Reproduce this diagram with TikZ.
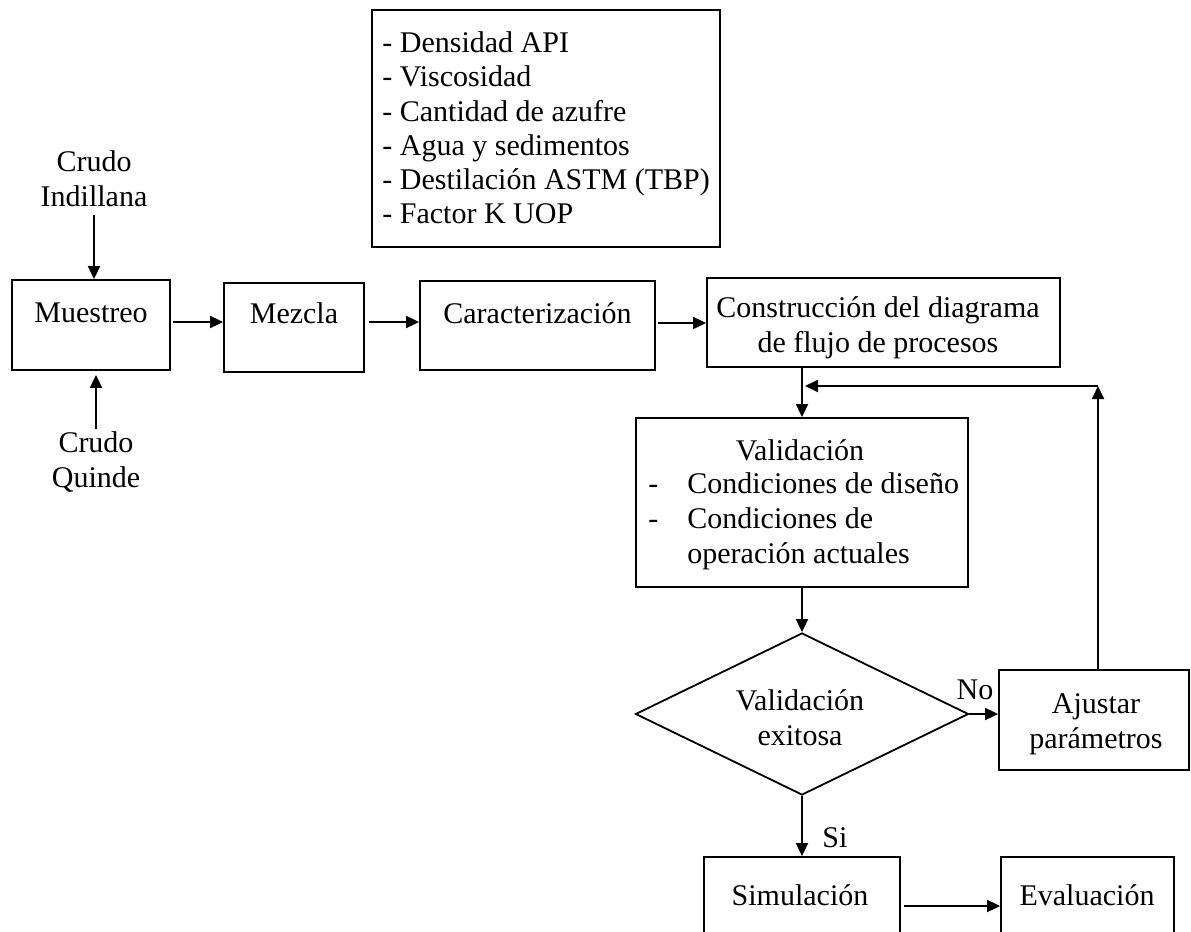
\documentclass[tikz,border=0pt]{standalone}
\usepackage{fontspec}
\setmainfont{Liberation Serif}
\usetikzlibrary{arrows.meta,shapes.geometric}
\begin{document}
\begin{tikzpicture}[x=0.5pt,y=-0.5pt,
  box/.style={draw,line width=0.9pt,inner sep=0pt,rectangle},
  txt/.style={inner sep=0pt,align=center,font=\fontsize{15}{17.5}\selectfont},
  arr/.style={line width=0.9pt,-{Triangle[length=6.5pt,width=6pt]}}]
\useasboundingbox (0,0) rectangle (1191,932);
\clip (0,0) rectangle (1191,932);
\fill[white] (0,0) rectangle (1191,932);
% list box
\node[box,minimum width=174pt,minimum height=118.5pt] (lst) at (546,128.5) {};
\node[txt,align=left,anchor=west,font=\fontsize{15}{17.1}\selectfont] (lstt) at (382,128)
  {- Densidad API\\- Viscosidad\\- Cantidad de azufre\\- Agua y sedimentos\\- Destilación ASTM (TBP)\\- Factor K UOP};
% top row
\node[box,minimum width=79pt,minimum height=45pt] (mue) at (91,325) {};
\node[txt] (muet) at (91,313) {Muestreo};
\node[box,minimum width=70pt,minimum height=44.5pt] (mez) at (294,327.5) {};
\node[txt] (mezt) at (294,313) {Mezcla};
\node[box,minimum width=117.5pt,minimum height=44.5pt] (car) at (537.5,325.5) {};
\node[txt] (cart) at (537.5,313) {Caracterización};
\node[box,minimum width=176.5pt,minimum height=44.5pt] (con) at (883.5,322.5) {};
\node[txt] (cont) at (878,327.5) {Construcción del diagrama\\de flujo de procesos};
\node[txt,inner sep=4pt] (ci) at (94,178.5) {Crudo\\Indillana};
\node[txt,inner sep=1.5pt] (cq) at (96,462.5) {Crudo\\Quinde};
% validation
\node[box,minimum width=166pt,minimum height=84.5pt] (val) at (802,502.5) {};
\node[txt] (valt) at (800,450) {Validación};
\node[txt,anchor=west] (vall) at (648,521)
  {\begin{tabular}{@{}l@{\hspace{14.5pt}}l@{}}-&Condiciones de diseño\\-&Condiciones de\\&operación actuales\end{tabular}};
\node[draw,diamond,line width=0.9pt,inner sep=0pt,minimum width=166.5pt,minimum height=81pt] (dia) at (802,714) {};
\node[txt] (diat) at (800,717.5) {Validación\\exitosa};
\node[box,minimum width=95pt,minimum height=50pt] (aju) at (1094,720) {};
\node[txt] (ajut) at (1096,724) {Ajustar\\parámetros};
\node[box,minimum width=98pt,minimum height=44pt] (sim) at (802,901) {};
\node[txt] (simt) at (800,895) {Simulación};
\node[box,minimum width=86.5pt,minimum height=44pt] (eva) at (1087.5,901) {};
\node[txt] (evat) at (1087,895) {Evaluación};
\node[txt] (no) at (975,690) {No};
\node[txt] (si) at (835,838) {Si};
% connectors
\coordinate (r1) at (0,322);
\coordinate (r2) at (0,323);
\coordinate (r3) at (0,906);
\coordinate (fb) at (1098,386);
\draw[arr,shorten <=1pt] (mue.east |- r1) -- (mez.west |- r1);
\draw[arr,shorten <=2pt] (mez.east |- r1) -- (car.west |- r1);
\draw[arr,shorten <=1pt] (car.east |- r2) -- (con.west |- r2);
\draw[arr] (ci.south) -- (ci.south |- mue.north);
\draw[arr,shorten >=2pt] (cq.north) -- (cq.north |- mue.south);
\draw[arr] (val.north |- con.south) -- (val.north);
\draw[arr] (val.south) -- (dia.north);
\draw[arr] (dia.east) -- (dia.east -| aju.west);
\draw[arr] (fb |- aju.north) -- (fb);
\draw[arr,shorten >=1.5pt] (fb) -- (fb -| val.north);
\draw[arr] (dia.south) -- (sim.north);
\draw[arr,shorten <=1.5pt] (sim.east |- r3) -- (eva.west |- r3);
\end{tikzpicture}
\end{document}
